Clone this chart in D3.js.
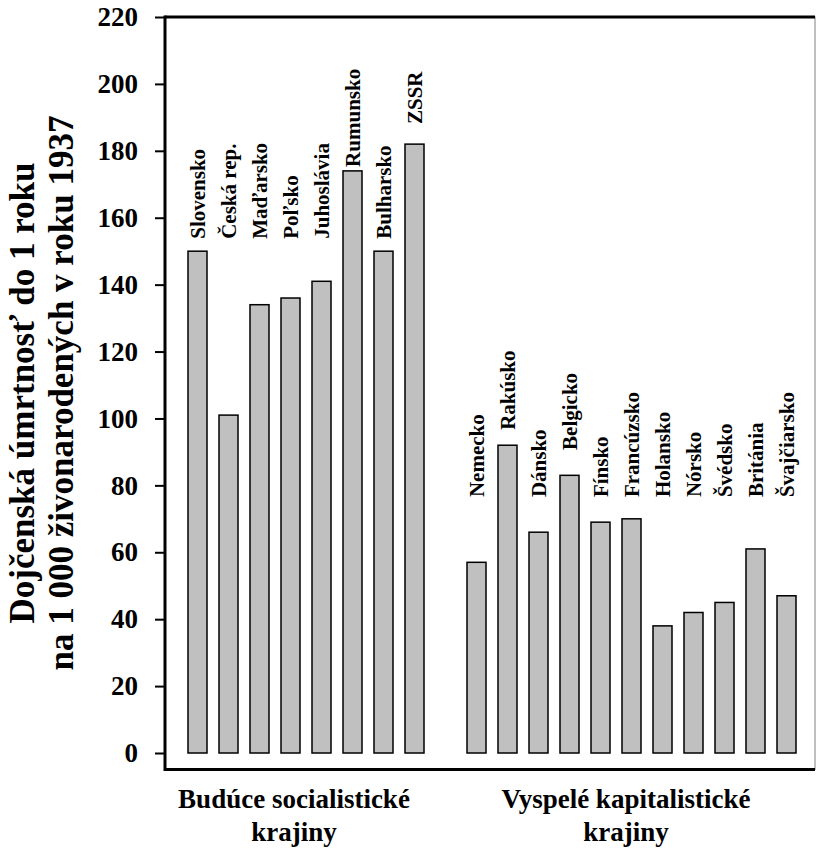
<!DOCTYPE html>
<html>
<head>
<meta charset="utf-8">
<script src="https://cdn.jsdelivr.net/npm/d3@7"></script>
<style>
  html, body { margin: 0; padding: 0; background: #fff; }
  svg { display: block; }
  text { font-family: "Liberation Serif", "Times New Roman", serif; font-weight: bold; fill: #000; }
</style>
</head>
<body>
<svg id="chart" width="816" height="848"></svg>
<script>
// ---- data ----
const socialistCountries = ["Slovensko", "Česká rep.", "Maďarsko", "Poľsko", "Juhoslávia", "Rumunsko", "Bulharsko", "ZSSR"];
const socialistValues    = [150, 101, 134, 136, 141, 174, 150, 182];
const capitalistCountries = ["Nemecko", "Rakúsko", "Dánsko", "Belgicko", "Fínsko", "Francúzsko", "Holansko", "Nórsko", "Švédsko", "Británia", "Švajčiarsko"];
const capitalistValues    = [57, 92, 66, 83, 69, 70, 38, 42, 45, 61, 47];
const yTicks = [0, 20, 40, 60, 80, 100, 120, 140, 160, 180, 200, 220];
const groupTitles = [["Budúce socialistické", "krajiny"], ["Vyspelé kapitalistické", "krajiny"]];
const yTitle = ["Dojčenská úmrtnosť do 1 roku", "na 1 000 živonarodených v roku 1937"];

// label anchor levels (value units) where each rotated country name begins
const socialistLabelLevel  = [153.7, 153.7, 153.7, 153.7, 153.7, 175.2, 153.7, 188];
const capitalistLabelLevel = [76.5, 96.6, 76.5, 90.6, 76.5, 76.5, 76.5, 76.5, 76.5, 76.5, 76.5];

// ---- build rows ----
const GAP = "__gap__";
const rows = [];
socialistCountries.forEach((c, i) => rows.push({ key: c, name: c, value: socialistValues[i], level: socialistLabelLevel[i] }));
capitalistCountries.forEach((c, i) => rows.push({ key: c, name: c, value: capitalistValues[i], level: capitalistLabelLevel[i] }));
const domain = [...socialistCountries, GAP, ...capitalistCountries];

// ---- layout ----
const frameLeft = 165, frameRight = 815, frameTop = 17, frameBottom = 769.5;
const svg = d3.select("#chart");

const y = d3.scaleLinear().domain([0, 220]).range([753, 17]);
const x = d3.scaleBand().domain(domain).range([182, 802]).paddingInner(12 / 31).paddingOuter(6 / 31);

// frame (thin gray box)
svg.append("rect")
  .attr("x", frameLeft).attr("y", frameTop)
  .attr("width", frameRight - frameLeft).attr("height", frameBottom - frameTop)
  .attr("fill", "none").attr("stroke", "#808080").attr("stroke-width", 1);

// bars
svg.append("g").selectAll("rect")
  .data(rows)
  .join("rect")
  .attr("x", d => x(d.key))
  .attr("y", d => y(d.value))
  .attr("width", x.bandwidth())
  .attr("height", d => y(0) - y(d.value))
  .attr("fill", "#c0c0c0")
  .attr("stroke", "#000")
  .attr("stroke-width", 1.5);

// country labels (rotated)
svg.append("g").selectAll("text")
  .data(rows)
  .join("text")
  .attr("transform", d => `translate(${x(d.key) + x.bandwidth() / 2},${y(d.level)}) rotate(-90)`)
  .attr("dy", "0.35em")
  .attr("text-anchor", "start")
  .style("font-size", "21px")
  .text(d => d.name);

// y axis
const yAxis = d3.axisLeft(y).tickValues(yTicks).tickSize(10).tickPadding(17).tickFormat(d3.format("d"));
const gy = svg.append("g").attr("transform", `translate(${frameLeft},0)`).call(yAxis);
gy.select(".domain").remove();
gy.selectAll(".tick line").attr("stroke", "#000").attr("stroke-width", 2);
gy.selectAll(".tick text").style("font-size", "27px").style("font-family", "'Liberation Serif', 'Times New Roman', serif").style("font-weight", "bold");

// thick frame lines
svg.append("line").attr("x1", frameLeft).attr("x2", frameLeft).attr("y1", frameTop - 1.5).attr("y2", frameBottom + 1.5)
  .attr("stroke", "#000").attr("stroke-width", 3);
svg.append("line").attr("x1", frameLeft).attr("x2", frameRight).attr("y1", frameTop).attr("y2", frameTop)
  .attr("stroke", "#000").attr("stroke-width", 3);
svg.append("line").attr("x1", frameLeft).attr("x2", frameRight).attr("y1", frameBottom).attr("y2", frameBottom)
  .attr("stroke", "#000").attr("stroke-width", 3);

// y title
const yt = svg.append("text").attr("transform", "rotate(-90)").attr("text-anchor", "middle").style("font-size", "35px");
yt.append("tspan").attr("x", -393).attr("y", 34).text(yTitle[0]);
yt.append("tspan").attr("x", -393).attr("y", 73).text(yTitle[1]);

// group titles
const groupCenters = [294, 626];
groupTitles.forEach((lines, gi) => {
  const t = svg.append("text").attr("text-anchor", "middle").style("font-size", "27px");
  t.append("tspan").attr("x", groupCenters[gi]).attr("y", 808).text(lines[0]);
  t.append("tspan").attr("x", groupCenters[gi]).attr("y", 841).text(lines[1]);
});
</script>
</body>
</html>
